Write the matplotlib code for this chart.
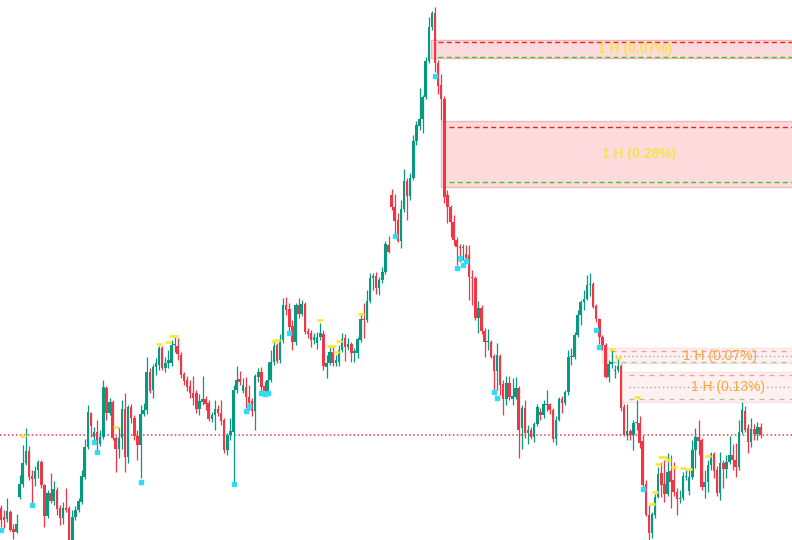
import numpy as np
import matplotlib
matplotlib.use('Agg')
import matplotlib.pyplot as plt

# chart levels (pixel rows from the top, 0..540)
opens = [508, 517, 519, 512, 529, 532, 497, 484, 463, 451,
         476, 479, 470, 462, 485, 516, 493, 501, 490, 508,
         518, 508, 508, 540, 517, 510, 502, 477, 447, 413,
         437, 432, 444, 437, 388, 413, 402, 438, 449, 438,
         409, 457, 407, 418, 436, 445, 414, 410, 372, 390,
         367, 365, 348, 368, 363, 363, 345, 346, 355, 374,
         380, 386, 393, 393, 409, 402, 399, 403, 419, 415,
         409, 413, 420, 450, 435, 432, 390, 379, 391, 387,
         397, 401, 411, 377, 372, 386, 391, 380, 362, 345,
         360, 340, 305, 309, 326, 342, 305, 314, 304, 331,
         333, 340, 343, 337, 334, 367, 363, 352, 363, 362,
         350, 338, 347, 344, 353, 353, 340, 319, 320, 301,
         278, 276, 288, 280, 272, 245, 195, 207, 220, 241,
         209, 181, 196, 178, 141, 126, 119, 97, 61, 27,
         13, 63, 85, 99, 195, 207, 222, 240, 247, 248,
         254, 255, 277, 278, 318, 308, 331, 342, 342, 356,
         371, 356, 384, 399, 383, 399, 397, 388, 428, 408,
         433, 430, 437, 424, 412, 415, 405, 404, 410, 439,
         420, 399, 403, 392, 357, 357, 335, 315, 302, 299,
         285, 284, 306, 319, 337, 345, 377, 364, 371, 370,
         366, 407, 435, 431, 435, 423, 423, 441, 484, 515,
         533, 515, 497, 473, 484, 494, 471, 480, 492, 499,
         498, 477, 491, 477, 450, 437, 440, 487, 482, 465,
         454, 470, 493, 463, 469, 462, 455, 460, 467, 432,
         411, 428, 442, 429, 434, 427]
closes = [520, 520, 511, 530, 532, 524, 484, 463, 451, 477,
          479, 471, 462, 485, 516, 493, 501, 489, 509, 518,
          508, 510, 540, 517, 510, 501, 476, 447, 412, 426,
          432, 444, 437, 387, 413, 402, 438, 449, 438, 409,
          457, 407, 418, 436, 445, 414, 410, 372, 391, 367,
          363, 348, 368, 363, 360, 345, 344, 354, 375, 381,
          387, 393, 398, 409, 401, 399, 404, 419, 415, 409,
          413, 421, 450, 435, 431, 390, 380, 382, 385, 397,
          403, 411, 376, 372, 387, 391, 380, 362, 346, 361,
          339, 305, 310, 327, 342, 305, 314, 304, 332, 334,
          340, 337, 337, 333, 366, 363, 352, 363, 360, 350,
          339, 347, 344, 353, 351, 339, 319, 320, 301, 278,
          276, 288, 280, 272, 244, 252, 207, 221, 241, 209,
          181, 196, 178, 141, 125, 119, 97, 61, 27, 13,
          63, 86, 99, 197, 207, 222, 240, 247, 248, 247,
          258, 277, 278, 318, 308, 331, 342, 341, 357, 371,
          355, 385, 399, 383, 397, 396, 388, 430, 408, 433,
          430, 437, 424, 407, 415, 404, 404, 410, 439, 420,
          399, 403, 392, 357, 356, 335, 315, 302, 299, 285,
          284, 307, 319, 337, 345, 377, 364, 362, 370, 366,
          408, 435, 431, 435, 423, 423, 443, 485, 515, 533,
          514, 497, 474, 485, 494, 472, 482, 492, 499, 498,
          476, 476, 477, 450, 437, 441, 487, 482, 465, 454,
          471, 493, 463, 469, 462, 455, 460, 467, 432, 410,
          430, 442, 429, 434, 427, 435]
highs = [505, 510, 498, 510, 524, 514, 475, 445, 428, 446,
         470, 466, 460, 460, 484, 490, 473, 481, 487, 505,
         502, 488, 506, 510, 506, 498, 470, 439, 405, 412,
         427, 420, 430, 380, 386, 398, 400, 436, 427, 400,
         393, 405, 404, 415, 430, 405, 403, 357, 368, 364,
         358, 346, 346, 357, 350, 340, 336, 338, 352, 372,
         376, 380, 376, 390, 394, 376, 396, 400, 412, 400,
         405, 400, 418, 433, 418, 385, 366, 371, 378, 377,
         385, 398, 374, 368, 367, 381, 362, 350, 341, 343,
         334, 298, 297, 303, 320, 303, 298, 300, 302, 328,
         330, 333, 332, 323, 330, 355, 346, 345, 355, 345,
         333, 334, 338, 342, 348, 337, 313, 303, 290, 273,
         273, 272, 277, 267, 241, 236, 189, 194, 213, 200,
         169, 178, 173, 135, 121, 88, 95, 57, 17, 11,
         7, 60, 74, 96, 190, 205, 215, 237, 244, 244,
         245, 245, 270, 276, 301, 305, 328, 329, 340, 354,
         343, 354, 380, 376, 376, 378, 377, 386, 405, 400,
         425, 427, 422, 404, 408, 400, 390, 403, 408, 416,
         397, 396, 390, 350, 348, 332, 310, 300, 290, 275,
         273, 282, 304, 318, 335, 343, 360, 350, 365, 358,
         364, 404, 404, 429, 420, 400, 416, 435, 480, 505,
         512, 494, 467, 462, 460, 453, 455, 462, 488, 490,
         472, 470, 468, 440, 428, 420, 438, 470, 460, 452,
         452, 466, 452, 460, 455, 436, 444, 443, 420, 402,
         406, 424, 418, 424, 422, 423]
lows = [527, 528, 522, 531, 539, 533, 499, 487, 465, 480,
        503, 486, 478, 488, 527, 518, 503, 505, 515, 525,
        524, 512, 545, 545, 520, 512, 504, 479, 449, 437,
        440, 450, 446, 439, 420, 415, 440, 472, 458, 449,
        472, 463, 423, 440, 460, 478, 416, 414, 393, 398,
        375, 370, 370, 372, 368, 366, 352, 360, 378, 385,
        391, 398, 405, 413, 415, 405, 410, 421, 422, 430,
        416, 425, 453, 455, 440, 484, 393, 385, 393, 408,
        410, 416, 430, 382, 394, 396, 393, 382, 365, 363,
        363, 343, 315, 333, 350, 345, 318, 316, 334, 338,
        347, 344, 349, 340, 370, 378, 365, 366, 366, 366,
        352, 361, 350, 362, 362, 358, 342, 338, 322, 303,
        290, 294, 295, 283, 274, 253, 210, 235, 242, 248,
        212, 220, 200, 180, 145, 130, 133, 99, 63, 30,
        72, 94, 120, 203, 223, 237, 245, 265, 262, 260,
        262, 300, 305, 320, 333, 334, 357, 350, 358, 392,
        390, 395, 415, 405, 400, 405, 399, 458, 449, 438,
        444, 439, 442, 426, 420, 418, 411, 414, 442, 445,
        421, 413, 405, 395, 365, 359, 337, 325, 310, 300,
        296, 308, 322, 344, 350, 378, 382, 368, 378, 372,
        411, 436, 440, 440, 450, 430, 448, 487, 516, 540,
        538, 518, 498, 497, 502, 496, 508, 496, 515, 503,
        500, 480, 495, 479, 468, 455, 490, 498, 492, 470,
        478, 496, 500, 488, 478, 464, 470, 477, 470, 434,
        432, 453, 447, 440, 440, 438]

# small markers (bar index, level)
cyan_idx = [0, 10, 30, 31, 45, 75, 79, 80, 84, 85, 86, 93, 127, 140,
            147, 148, 149, 150, 159, 160, 192, 193, 207]
cyan_lvl = [530, 505, 442, 452, 482, 484, 411, 406, 393, 394, 393, 333, 236, 76,
            268, 258, 265, 261, 392, 398, 330, 347, 489]
yel_idx = [7, 37, 51, 54, 55, 56, 88, 89, 103, 106, 107, 108, 109, 116,
           197, 199, 205, 210, 211, 212, 213, 214, 215, 217, 220, 222, 228]
yel_lvl = [436, 427, 344, 342, 336, 336, 341, 340, 320, 346, 346, 352, 341, 314,
           349, 358, 397, 504, 492, 464, 457, 457, 460, 467, 468, 469, 456]

# zones: start bar, top, bottom, upper line, lower line, mid line, label
zone_start = [138.6, 141.9, 193.9, 199.7]
zone_top = [40, 121, 348, 372]
zone_bot = [57.5, 187, 363, 402]
zone_hi_line = [42.3, 127.3, 351, 375]
zone_lo_line = [56.7, 181.7, 362, 399]
zone_mid_line = [None, None, 356, 387]
zone_labels = ['1 H (0.07%)', '1 H (0.28%)', '1 H (0.07%)', '1 H (0.13%)']
label_x = [204.5, 205.8, 232.0, 234.5]
label_lvl = [48.5, 154, 356, 387]
ref_level = 435

GREEN = '#089981'
RED = '#f23645'
H = 540.0
SP = 3.1

o = H - np.array(opens, float)
c = H - np.array(closes, float)
hi = H - np.array(highs, float)
lo = H - np.array(lows, float)
xs = np.arange(len(o))

fig = plt.figure(figsize=(7.92, 5.40), dpi=100)
ax = fig.add_axes([0, 0, 1, 1])
ax.set_xlim(-1 / SP, 791 / SP)
ax.set_ylim(0, H)
ax.axis('off')
xr = 791 / SP + 2

# zones
for i in range(4):
    top, bot = H - zone_top[i], H - zone_bot[i]
    if i < 2:
        fill, edge = '#fddbdc', '#f7b7b9'
        red_c, grn_c = '#f01e1e', '#3cc82a'
        dash = (0, (3.6, 2.4))
        tcol, tw, fs = '#f6e24e', 'bold', 10
        d0 = zone_start[i] + 2.5
    else:
        fill, edge = '#fff1f1', '#fbe2e2'
        red_c, grn_c = '#f5a0a0', '#a9c89e'
        dash = (0, (3.6, 3.6))
        tcol, tw, fs = '#f6a73c', 'normal', 10
        d0 = zone_start[i] + 3
    ax.fill_between([zone_start[i], xr], bot, top, facecolor=fill,
                    edgecolor=edge, lw=1.0, zorder=1)
    ax.hlines(H - zone_hi_line[i], d0, xr, colors=red_c, lw=1.0, linestyles=dash, zorder=2)
    ax.hlines(H - zone_lo_line[i], d0, xr, colors=grn_c, lw=1.0, linestyles=dash, zorder=2)
    if zone_mid_line[i] is not None:
        ax.hlines(H - zone_mid_line[i], d0, xr, colors='#b8a8a8', lw=1.0,
                  linestyles=(0, (1, 2)), zorder=2)
    ax.text(label_x[i], H - label_lvl[i], zone_labels[i], ha='center', va='center',
            fontsize=fs, fontweight=tw, color=tcol, family='Liberation Sans', zorder=5)

# reference dotted line
ax.axhline(H - ref_level, color=RED, lw=1.1, ls=(0, (1, 1.6)), zorder=3)

# candles
colors = np.where(c >= o, GREEN, RED)
ax.vlines(xs, lo, hi, colors=colors, lw=0.9, zorder=4)
body_h = np.maximum(np.abs(c - o), 1.0)
ax.bar(xs, body_h, bottom=np.minimum(o, c), width=0.82, color=colors,
       linewidth=0, zorder=4)

# markers
ax.plot(cyan_idx, H - np.array(cyan_lvl), ls='none', marker='s', ms=2.8,
        color='#2ddcf5', mec='#2ddcf5', zorder=6)
ax.plot(yel_idx, H - np.array(yel_lvl), ls='none', marker='_', ms=4, mew=2,
        color='#ffe63a', zorder=6)

fig.savefig('out.png', dpi=100)
